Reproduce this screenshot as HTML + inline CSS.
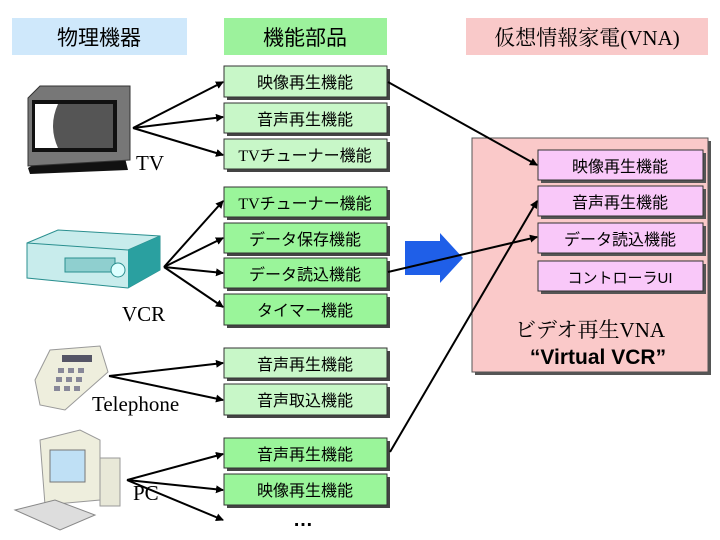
<!DOCTYPE html>
<html><head><meta charset="utf-8"><style>
html,body{margin:0;padding:0;background:#fff;width:720px;height:540px;overflow:hidden}
svg{display:block}
.j{font-family:"Liberation Sans","Noto Sans CJK JP",sans-serif}
.s{font-family:"Liberation Serif","Noto Serif CJK SC",serif}
</style></head><body>
<svg width="720" height="540" viewBox="0 0 720 540" xmlns="http://www.w3.org/2000/svg">
<defs>
<marker id="a" markerWidth="8" markerHeight="8" refX="7" refY="4" orient="auto" markerUnits="userSpaceOnUse">
<path d="M0,0 L8,4 L0,8 z" fill="#000"/></marker>
</defs>
<!-- headers -->
<rect x="12" y="18" width="175" height="37" fill="#cfe8fb"/>
<text x="99" y="45" font-size="21" text-anchor="middle" class="j">物理機器</text>
<rect x="224" y="18" width="163" height="37" fill="#9cf29c"/>
<text x="305" y="45" font-size="21" text-anchor="middle" class="j">機能部品</text>
<rect x="466" y="18" width="242" height="37" fill="#f9c9c9"/>
<text x="587" y="45" font-size="21" text-anchor="middle" class="s">仮想情報家電(VNA)</text>

<!-- pink container -->
<rect x="475" y="141" width="236" height="234" fill="#555"/>
<rect x="472" y="138" width="236" height="234" fill="#fac9c9" stroke="#555" stroke-width="1"/>
<g class="j" font-size="16" text-anchor="middle">
<rect x="541" y="153" width="165" height="30" fill="#555"/>
<rect x="538" y="150" width="165" height="30" fill="#f9c8f9" stroke="#333"/>
<text x="620" y="172">映像再生機能</text>
<rect x="541" y="189" width="165" height="30" fill="#555"/>
<rect x="538" y="186" width="165" height="30" fill="#f9c8f9" stroke="#333"/>
<text x="620" y="208">音声再生機能</text>
<rect x="541" y="226" width="165" height="30" fill="#555"/>
<rect x="538" y="223" width="165" height="30" fill="#f9c8f9" stroke="#333"/>
<text x="620" y="245">データ読込機能</text>
<rect x="541" y="264" width="165" height="30" fill="#555"/>
<rect x="538" y="261" width="165" height="30" fill="#f9c8f9" stroke="#333"/>
<text x="620" y="283" font-size="15">コントローラUI</text>
</g>
<text x="590" y="337" font-size="21" text-anchor="middle" class="s">ビデオ再生VNA</text>
<text x="598" y="364" font-size="21" font-weight="bold" text-anchor="middle" class="j">“Virtual VCR”</text>

<!-- blue arrow -->
<path d="M405,241 L440,241 L440,233 L463,258 L440,283 L440,275 L405,275 z" fill="#1f5fe8"/>

<!-- green boxes -->
<g class="j" font-size="16" text-anchor="middle" fill="#000">
<g id="boxes">
<rect x="227" y="69" width="163" height="31" fill="#444"/><rect x="224" y="66" width="163" height="31" fill="#c8f7c8" stroke="#333"/><text x="305" y="88">映像再生機能</text>
<rect x="227" y="106" width="163" height="30" fill="#444"/><rect x="224" y="103" width="163" height="30" fill="#c8f7c8" stroke="#333"/><text x="305" y="125">音声再生機能</text>
<rect x="227" y="142" width="163" height="30" fill="#444"/><rect x="224" y="139" width="163" height="30" fill="#c8f7c8" stroke="#333"/><text x="305" y="161"><tspan class="s">TV</tspan>チューナー機能</text>
<rect x="227" y="190" width="163" height="30" fill="#444"/><rect x="224" y="187" width="163" height="30" fill="#9af59a" stroke="#333"/><text x="305" y="209"><tspan class="s">TV</tspan>チューナー機能</text>
<rect x="227" y="226" width="163" height="30" fill="#444"/><rect x="224" y="223" width="163" height="30" fill="#9af59a" stroke="#333"/><text x="305" y="245">データ保存機能</text>
<rect x="227" y="261" width="163" height="30" fill="#444"/><rect x="224" y="258" width="163" height="30" fill="#9af59a" stroke="#333"/><text x="305" y="280">データ読込機能</text>
<rect x="227" y="297" width="163" height="31" fill="#444"/><rect x="224" y="294" width="163" height="31" fill="#9af59a" stroke="#333"/><text x="305" y="316">タイマー機能</text>
<rect x="227" y="351" width="163" height="30" fill="#444"/><rect x="224" y="348" width="163" height="30" fill="#c8f7c8" stroke="#333"/><text x="305" y="370">音声再生機能</text>
<rect x="227" y="387" width="163" height="31" fill="#444"/><rect x="224" y="384" width="163" height="31" fill="#c8f7c8" stroke="#333"/><text x="305" y="406">音声取込機能</text>
<rect x="227" y="441" width="163" height="30" fill="#444"/><rect x="224" y="438" width="163" height="30" fill="#9af59a" stroke="#333"/><text x="305" y="460">音声再生機能</text>
<rect x="227" y="477" width="163" height="31" fill="#444"/><rect x="224" y="474" width="163" height="31" fill="#9af59a" stroke="#333"/><text x="305" y="496">映像再生機能</text>
</g>
<text x="303" y="526" font-size="20" font-weight="bold">…</text>
</g>

<!-- connectors -->
<g stroke="#000" stroke-width="2" fill="none" marker-end="url(#a)">
<line x1="133" y1="128" x2="223" y2="82"/>
<line x1="133" y1="128" x2="223" y2="117"/>
<line x1="133" y1="128" x2="223" y2="155"/>
<line x1="164" y1="267" x2="223" y2="201"/>
<line x1="164" y1="267" x2="223" y2="238"/>
<line x1="164" y1="267" x2="223" y2="273"/>
<line x1="164" y1="267" x2="223" y2="307"/>
<line x1="109" y1="376" x2="223" y2="363"/>
<line x1="109" y1="376" x2="223" y2="400"/>
<line x1="127" y1="480" x2="223" y2="454"/>
<line x1="127" y1="480" x2="223" y2="490"/>
<line x1="127" y1="480" x2="223" y2="520"/>
<line x1="388" y1="82" x2="537" y2="165"/>
<line x1="388" y1="272" x2="537" y2="237"/>
<line x1="390" y1="452" x2="537" y2="201"/>
</g>

<!-- device labels -->
<g class="s" font-size="21">
<text x="136" y="170">TV</text>
<text x="122" y="321">VCR</text>
<text x="92" y="411">Telephone</text>
<text x="133" y="500">PC</text>
</g>

<!-- TV icon -->
<path d="M28,168 L45,158 L125,158 L128,170 L30,174 z" fill="#111"/>
<path d="M28,98 L40,86 L130,86 L130,160 L28,166 z" fill="#777" stroke="#333"/>
<rect x="32" y="100" width="85" height="52" fill="#111"/>
<rect x="35" y="104" width="78" height="44" fill="#555"/>
<path d="M35,104 L58,104 Q48,126 58,148 L35,148 z" fill="#fff"/>
<!-- VCR icon -->
<path d="M27,243 L58,230 L160,236 L160,270 L128,288 L27,278 z" fill="#c8ecec" stroke="#2a8f8f"/>
<path d="M27,243 L128,250 L160,236" fill="none" stroke="#2a8f8f"/>
<path d="M128,250 L128,288 L160,270 L160,236 z" fill="#2aa0a0"/>
<rect x="65" y="258" width="50" height="14" fill="#8fcfcf" stroke="#2a8f8f"/>
<circle cx="118" cy="270" r="7" fill="#dff" stroke="#2a8f8f"/>
<!-- Telephone icon -->
<path d="M35,380 L50,350 L100,346 L108,372 L65,410 L40,405 z" fill="#eeeedd" stroke="#999"/>
<rect x="62" y="355" width="30" height="7" fill="#556"/>
<g fill="#889">
<rect x="58" y="368" width="6" height="5"/><rect x="68" y="368" width="6" height="5"/><rect x="78" y="368" width="6" height="5"/>
<rect x="56" y="377" width="6" height="5"/><rect x="66" y="377" width="6" height="5"/><rect x="76" y="377" width="6" height="5"/>
<rect x="54" y="386" width="6" height="5"/><rect x="64" y="386" width="6" height="5"/><rect x="74" y="386" width="6" height="5"/>
</g>
<!-- PC icon -->
<path d="M40,440 L80,430 L100,440 L100,500 L45,505 z" fill="#eeeedd" stroke="#999"/>
<rect x="50" y="450" width="35" height="32" fill="#bfe0f5" stroke="#777"/>
<rect x="100" y="458" width="20" height="48" fill="#e8e8d8" stroke="#999"/>
<path d="M15,510 L55,500 L95,515 L60,530 z" fill="#ddd" stroke="#888"/>
</svg>
</body></html>
